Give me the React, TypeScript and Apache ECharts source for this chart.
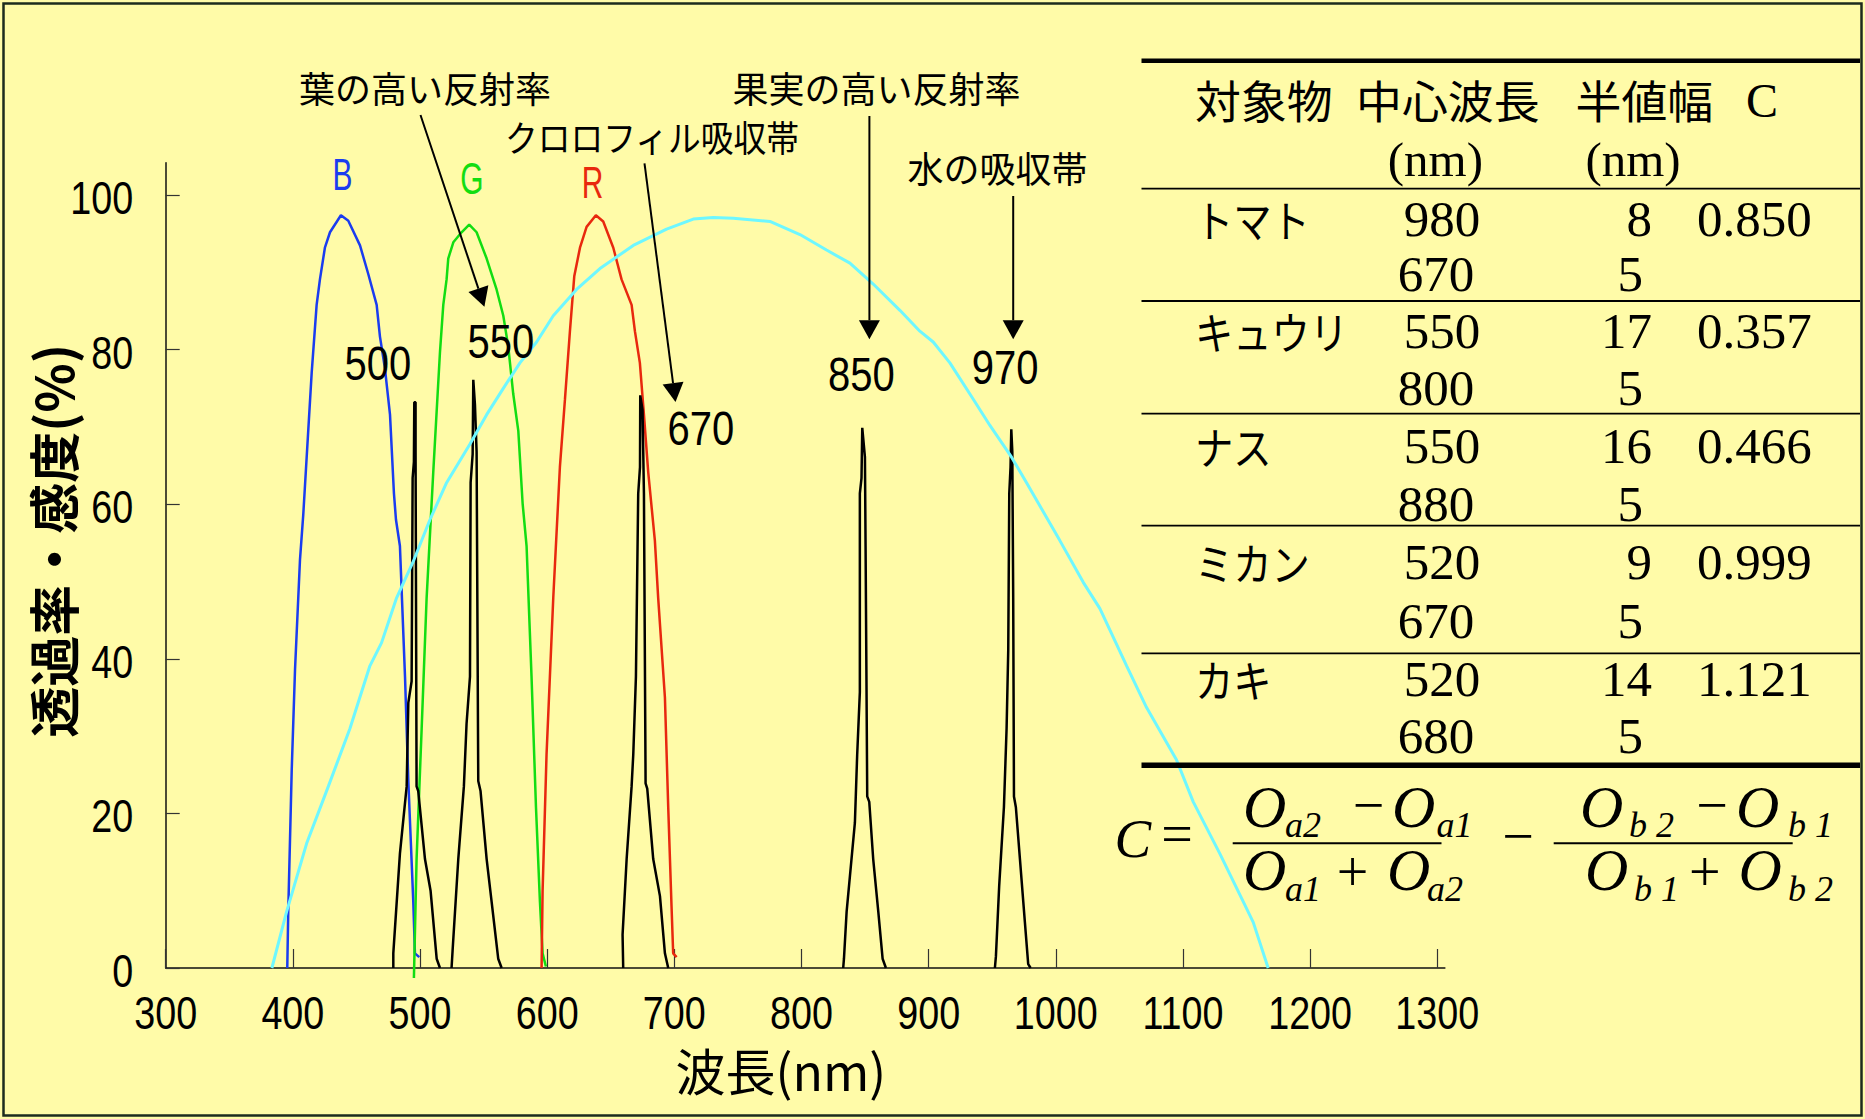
import React, { useEffect, useRef } from "react";
import * as echarts from "echarts";

// ---------- axis ticks / tick labels ----------
const xTicks = [300, 400, 500, 600, 700, 800, 900, 1000, 1100, 1200, 1300];
const yTicks = [0, 20, 40, 60, 80, 100];

// ---------- camera channel sensitivity (B, G, R) [nm, %] ----------
const blueCurve = [
  [395.6, 0], [396.4, 7.5], [399.1, 25.6], [401.7, 38.6], [405.6, 52.8], [408.2, 58.7],
  [414.8, 77], [418.7, 85.8], [421.3, 89.1], [425.2, 93.2], [429.2, 95.2], [437.8, 97.4],
  [443.6, 96.7], [452.8, 93.5], [459.3, 89.8], [465.9, 85.8], [468.5, 81.7], [472.4, 77.6],
  [476.4, 71.6], [479.5, 61.4], [481.1, 58], [484.2, 54.6], [488.2, 37.7], [490.8, 24.2],
  [494.7, 8.6], [496, 1.9], [499.4, 1.4],
];
const greenCurve = [
  [495.2, -1.3], [497.3, 14.1], [501.3, 31], [505.2, 47.9], [510.4, 64.1], [515.7, 79.7],
  [518.3, 85.8], [520.9, 89.1], [522.2, 91.8], [526.2, 93.9], [532.7, 95.2], [538.7, 96.2],
  [544.5, 95.2], [552.4, 91.8], [560.2, 87.8], [565.5, 84.4], [569.4, 80.4], [573.3, 74.3],
  [577.3, 69.5], [580.7, 60.1], [583.8, 54.6], [587.7, 37.7], [591.2, 20.8], [594.3, 8.6],
  [596.4, 1.9], [599, 0.2],
];
const redCurve = [
  [595.6, 0], [596.4, 10], [599.5, 27.6], [604.8, 47.9], [610, 64.8], [614, 73.6],
  [617.9, 82.4], [621.3, 89.5], [625.8, 93.2], [631, 95.9], [638.3, 97.4], [644.1, 96.6],
  [652, 93.2], [658.5, 89.1], [666.4, 85.8], [669, 82.4], [672.9, 78.3], [676.1, 71.6],
  [679.5, 64.1], [684.7, 55.3], [687.3, 47.9], [692.6, 35], [695.2, 20.8], [697.8, 8],
  [699.1, 1.9], [701.8, 1.4],
];
// ---------- sensor sensitivity (cyan) ----------
const sensorCurve = [
  [383.5, 0], [395.1, 7.3], [410.8, 16.1], [427.9, 23.5], [444.9, 31], [460.6, 39.1],
  [469.8, 42.1], [481.6, 47.9], [494.7, 52.6], [507.8, 58], [520.9, 62.8], [539.3, 67.8],
  [552.4, 71.6], [565.5, 75], [578.6, 78.3], [591.7, 81], [604.8, 84.4], [623.1, 87.8],
  [641.5, 90.5], [667.7, 93.5], [693.9, 95.6], [714.9, 96.9], [730.6, 97.1], [746.3, 97],
  [775.2, 96.6], [798.8, 94.9], [819.7, 92.9], [838.1, 91.2], [856.4, 88.5], [877.4, 85.1],
  [893.1, 82.4], [903.6, 81], [916.7, 78.3], [935.1, 73.6], [948.2, 70.2], [965.2, 66.1],
  [977, 62.8], [1003.2, 55.3], [1021.6, 49.9], [1034.7, 46.5], [1055.7, 39.1], [1071.4, 33.7],
  [1095, 26.9], [1108.1, 21.5], [1129, 14.8], [1147.4, 8.6], [1155.3, 5.9], [1167, 0],
];
// ---------- interference filters (black) ----------
const filter500 = [
  [479, 0], [479, 1.9], [484.2, 14.8], [489.5, 23.5], [490.8, 34.3], [493.4, 37.1],
  [494.2, 63.4], [495.2, 65.5], [495.5, 73.2], [496.5, 73.2], [496.5, 66.8], [497.3, 23.5],
  [498.6, 22.9], [503.9, 14.1], [508.3, 10], [513.1, 1.2], [515.7, 0],
];
const filter550 = [
  [524.8, 0], [525.6, 2.2], [530.1, 14.1], [534.5, 23.5], [536.6, 31.6], [539.3, 37.7],
  [539.8, 62.8], [541.4, 66.5], [541.9, 76.1], [543.2, 72.9], [544.5, 66.8], [545.8, 24.2],
  [547.6, 22.9], [552.4, 14.1], [556.3, 8.6], [561.5, 1.2], [564.2, 0],
];
const filter670 = [
  [659.8, 0], [659.3, 4.3], [662.5, 14.1], [666.4, 23.5], [667.7, 27.6], [669.8, 37.7],
  [671.6, 61.4], [673, 64.8], [673.2, 74.1], [675, 72.2], [676.1, 61.4], [677.4, 23.9],
  [678.7, 23.2], [683.4, 14.1], [688.7, 9.3], [692.6, 1.9], [695.2, 0],
];
const filter850 = [
  [832.8, 0], [833.4, 1.2], [835.5, 7.3], [842, 18.8], [843.8, 27.6], [845.9, 35.7],
  [845.9, 61.4], [847.2, 63.4], [847.8, 69.9], [849.9, 66.1], [850.4, 54.6], [851.7, 22.2],
  [853.3, 21.5], [856.4, 14.1], [860.4, 7.3], [863.8, 1.2], [866.4, 0],
];
const filter970 = [
  [952.1, 0], [952.9, 1.5], [955.5, 10.7], [959.2, 20.8], [961.3, 31], [962.6, 41.1],
  [963.4, 61.4], [964.4, 64.8], [965, 69.7], [965.8, 66.8], [966.5, 47.9], [967.1, 22.2],
  [968.6, 20.8], [971.8, 14.1], [975.7, 5.9], [978.3, 0.5], [980.2, 0],
];

// ---------- table ----------
const tableObjects = ["トマト", "キュウリ", "ナス", "ミカン", "カキ"];
const tableCenter1 = [980, 550, 550, 520, 520];
const tableCenter2 = [670, 800, 880, 670, 680];
const tableHalf1 = [8, 17, 16, 9, 14];
const tableHalf2 = [5, 5, 5, 5, 5];
const tableC = [0.85, 0.357, 0.466, 0.999, 1.121];

// ---------- fonts / colours ----------
const CJK = "'Noto Sans CJK JP', 'Noto Sans', sans-serif";
const SANS = "'Liberation Sans', Arial, sans-serif";
const SERIF = "'Liberation Serif', 'DejaVu Serif', serif";
const BG = "#FFFBA8";
const BLUE = "#1a3cf0";
const GREEN = "#12dd12";
const RED = "#e8280e";
const CYAN = "#6ef7ff";

const W = 1865;
const H = 1119;

type Opt = { sx?: number; sy?: number; fill?: string; align?: string; style?: string; weight?: string };
function txt(text: string, x: number, y: number, size: number, family: string, o: Opt = {}) {
  return {
    type: "text",
    x,
    y,
    scaleX: o.sx ?? 1,
    scaleY: o.sy ?? 1,
    z: 100,
    silent: true,
    style: {
      text,
      x: 0,
      y: 0,
      fontSize: size,
      fontFamily: family,
      fontStyle: o.style ?? "normal",
      fontWeight: o.weight ?? "normal",
      lineHeight: size,
      fill: o.fill ?? "#000",
      align: o.align ?? "center",
      verticalAlign: "middle",
    },
  };
}
function hline(x1: number, x2: number, y: number, w: number) {
  return { type: "line", z: 100, silent: true, shape: { x1, y1: y, x2, y2: y }, style: { stroke: "#000", lineWidth: w } };
}
function arrow(sx: number, sy: number, tx: number, ty: number) {
  const L = 19, hw = 10.5;
  const dx = tx - sx, dy = ty - sy;
  const d = Math.hypot(dx, dy);
  const ux = dx / d, uy = dy / d;
  const bx = tx - ux * L, by = ty - uy * L;
  const px = -uy, py = ux;
  return [
    { type: "line", z: 100, silent: true, shape: { x1: sx, y1: sy, x2: bx, y2: by }, style: { stroke: "#000", lineWidth: 2 } },
    {
      type: "polygon", z: 100, silent: true,
      shape: { points: [[tx, ty], [bx + px * hw, by + py * hw], [bx - px * hw, by - py * hw]] },
      style: { fill: "#000" },
    },
  ];
}

function buildGraphics(chart: any) {
  const g: any[] = [];
  g.push({ type: "rect", z: 100, silent: true, shape: { x: 3.5, y: 3.5, width: W - 7, height: H - 7 }, style: { fill: "none", stroke: "#1d2b1d", lineWidth: 2.5 } });

  // tick labels (narrow digits), placed through the axes' own scales
  xTicks.forEach((v) => {
    const px = chart.convertToPixel({ xAxisIndex: 0 }, v);
    const py = chart.convertToPixel({ yAxisIndex: 0 }, 0);
    g.push(txt(String(v), px, py + 45, 46, SANS, { sx: 0.82 }));
  });
  yTicks.forEach((v) => {
    const px = chart.convertToPixel({ xAxisIndex: 0 }, 300);
    const py = chart.convertToPixel({ yAxisIndex: 0 }, v);
    g.push(txt(String(v), px - 32.5, py + 3, 46, SANS, { sx: 0.82, align: "right" }));
  });

  // channel labels
  g.push(txt("B", 342.6, 175, 44, SANS, { sx: 0.68, fill: BLUE }));
  g.push(txt("G", 472, 178.5, 44, SANS, { sx: 0.68, fill: GREEN }));
  g.push(txt("R", 592.6, 182.5, 44, SANS, { sx: 0.68, fill: RED }));

  // filter labels
  g.push(txt("500", 377.8, 363.3, 40, SANS, { sy: 1.2 }));
  g.push(txt("550", 500.8, 340.8, 40, SANS, { sy: 1.2 }));
  g.push(txt("670", 700.8, 427.8, 40, SANS, { sy: 1.2 }));
  g.push(txt("850", 861.3, 374.2, 40, SANS, { sy: 1.2 }));
  g.push(txt("970", 1005, 367.5, 40, SANS, { sy: 1.2 }));

  // annotations
  g.push(txt("葉の高い反射率", 425, 86.7, 36, CJK));
  g.push(txt("クロロフィル吸収帯", 652, 136, 36, CJK, { sx: 0.91 }));
  g.push(txt("果実の高い反射率", 876.6, 86.7, 36, CJK));
  g.push(txt("水の吸収帯", 997.6, 166.7, 36, CJK));
  g.push(...arrow(420.5, 115, 484.4, 306.7));
  g.push(...arrow(644.5, 163.3, 675.5, 402));
  g.push(...arrow(869.4, 116, 869.4, 339.3));
  g.push(...arrow(1013.2, 196, 1013.2, 339.3));

  // table
  const tx0 = 1141.5, tx1 = 1860;
  g.push(hline(tx0, tx1, 60.7, 4.6));
  g.push(hline(tx0, tx1, 188.6, 1.8));
  const blockLines = [301, 413.6, 525.7, 653.3];
  blockLines.forEach((y) => g.push(hline(tx0, tx1, y, 1.8)));
  g.push(hline(tx0, tx1, 765.3, 5.6));

  g.push(txt("対象物", 1195, 99.5, 45, CJK, { align: "left", sx: 1.02 }));
  g.push(txt("中心波長", 1356, 99.5, 45, CJK, { align: "left", sx: 1.02 }));
  g.push(txt("半値幅", 1575.6, 99.5, 45, CJK, { align: "left", sx: 1.02 }));
  g.push(txt("C", 1762, 100, 48, SERIF));
  g.push(txt("(nm)", 1435.4, 159.5, 49, SERIF));
  g.push(txt("(nm)", 1633, 159.5, 49, SERIF));

  const row1Y = [218.5, 331, 446, 561.7, 679];
  const row2Y = [274.3, 388.4, 504, 621, 735.5];
  tableObjects.forEach((name, i) => {
    g.push(txt(name, 1195, row1Y[i], 44, CJK, { align: "left", sx: 0.87 }));
    g.push(txt(String(tableCenter1[i]), 1442, row1Y[i], 51, SERIF));
    g.push(txt(String(tableCenter2[i]), 1436, row2Y[i], 51, SERIF));
    g.push(txt(String(tableHalf1[i]), 1652, row1Y[i], 51, SERIF, { align: "right" }));
    g.push(txt(String(tableHalf2[i]), 1643, row2Y[i], 51, SERIF, { align: "right" }));
    g.push(txt(tableC[i].toFixed(3), 1697, row1Y[i], 51, SERIF, { align: "left" }));
  });

  // formula
  const I = { style: "italic", align: "left" };
  g.push(txt("C", 1114.6, 838, 55, SERIF, I));
  g.push(txt("=", 1177, 834, 56, SERIF));
  g.push(hline(1232.7, 1441.5, 843.3, 2));
  g.push(hline(1553.7, 1792.7, 843.3, 2));
  g.push(txt("O", 1243, 806.7, 60, SERIF, I));
  g.push(txt("a2", 1285, 825, 36, SERIF, I));
  g.push(txt("−", 1368.5, 805, 56, SERIF));
  g.push(txt("O", 1392, 806.7, 60, SERIF, I));
  g.push(txt("a1", 1436.6, 825, 36, SERIF, I));
  g.push(txt("O", 1243, 870, 60, SERIF, I));
  g.push(txt("a1", 1285, 889, 36, SERIF, I));
  g.push(txt("+", 1352.5, 871.5, 56, SERIF));
  g.push(txt("O", 1387, 870, 60, SERIF, I));
  g.push(txt("a2", 1427, 889, 36, SERIF, I));
  g.push(txt("−", 1518, 836, 56, SERIF));
  g.push(txt("O", 1580, 806.7, 60, SERIF, I));
  g.push(txt("b 2", 1629, 825, 36, SERIF, I));
  g.push(txt("−", 1712, 805, 56, SERIF));
  g.push(txt("O", 1736, 806.7, 60, SERIF, I));
  g.push(txt("b 1", 1788, 825, 36, SERIF, I));
  g.push(txt("O", 1585, 870, 60, SERIF, I));
  g.push(txt("b 1", 1634, 889, 36, SERIF, I));
  g.push(txt("+", 1704.7, 871.5, 56, SERIF));
  g.push(txt("O", 1738.5, 870, 60, SERIF, I));
  g.push(txt("b 2", 1788, 889, 36, SERIF, I));
  return g;
}

function mkLine(name: string, data: number[][], color: string, width: number, z: number) {
  return {
    type: "line",
    name,
    data,
    symbol: "none",
    showSymbol: false,
    clip: false,
    z,
    silent: true,
    lineStyle: { color, width },
    itemStyle: { color },
    emphasis: { disabled: true },
  };
}

export default function App() {
  const ref = useRef<HTMLDivElement>(null);
  useEffect(() => {
    const chart = echarts.init(ref.current!, null, { renderer: "svg", width: W, height: H });
    const axisLineStyle = { color: "#111", width: 1.5 };
    chart.setOption({
      animation: false,
      backgroundColor: BG,
      textStyle: { fontFamily: SANS },
      grid: { left: 165.7, right: 420.1, top: 162.7, bottom: 151, containLabel: false, outerBoundsMode: "none" },
      xAxis: {
        type: "value",
        min: 300,
        max: 1306,
        axisLine: { show: true, lineStyle: axisLineStyle },
        axisTick: { show: true, inside: true, length: 19, customValues: xTicks, lineStyle: { color: "#333", width: 1.2 } },
        axisLabel: { show: false },
        splitLine: { show: false },
        name: "波長(nm)",
        nameLocation: "middle",
        nameGap: 76,
        nameMoveOverlap: false,
        nameTextStyle: { fontSize: 50, fontFamily: CJK, color: "#000", padding: [0, 49, 0, 0] },
      },
      yAxis: {
        type: "value",
        min: 0,
        max: 104.2,
        axisLine: { show: true, lineStyle: axisLineStyle },
        axisTick: { show: true, inside: true, length: 14, customValues: yTicks, lineStyle: { color: "#333", width: 1.2 } },
        axisLabel: { show: false },
        splitLine: { show: false },
        name: "透過率・感度(%)",
        nameLocation: "middle",
        nameRotate: 90,
        nameGap: 88,
        nameMoveOverlap: false,
        nameTextStyle: { fontSize: 51, fontWeight: "bold", fontFamily: CJK, color: "#000", padding: [0, 0, 0, 49] },
      },
      series: [
        mkLine("B", blueCurve, BLUE, 2.5, 3),
        mkLine("G", greenCurve, GREEN, 2.5, 3),
        mkLine("R", redCurve, RED, 2.5, 3),
        mkLine("500nm", filter500, "#000", 2.5, 4),
        mkLine("550nm", filter550, "#000", 2.5, 4),
        mkLine("670nm", filter670, "#000", 2.5, 4),
        mkLine("850nm", filter850, "#000", 2.5, 4),
        mkLine("970nm", filter970, "#000", 2.5, 4),
        mkLine("sensor", sensorCurve, CYAN, 3, 5),
      ],
    });
    chart.setOption({ graphic: { elements: buildGraphics(chart) } });
    return () => chart.dispose();
  }, []);
  return <div ref={ref} style={{ position: "fixed", left: 0, top: 0, width: W, height: H }} />;
}
